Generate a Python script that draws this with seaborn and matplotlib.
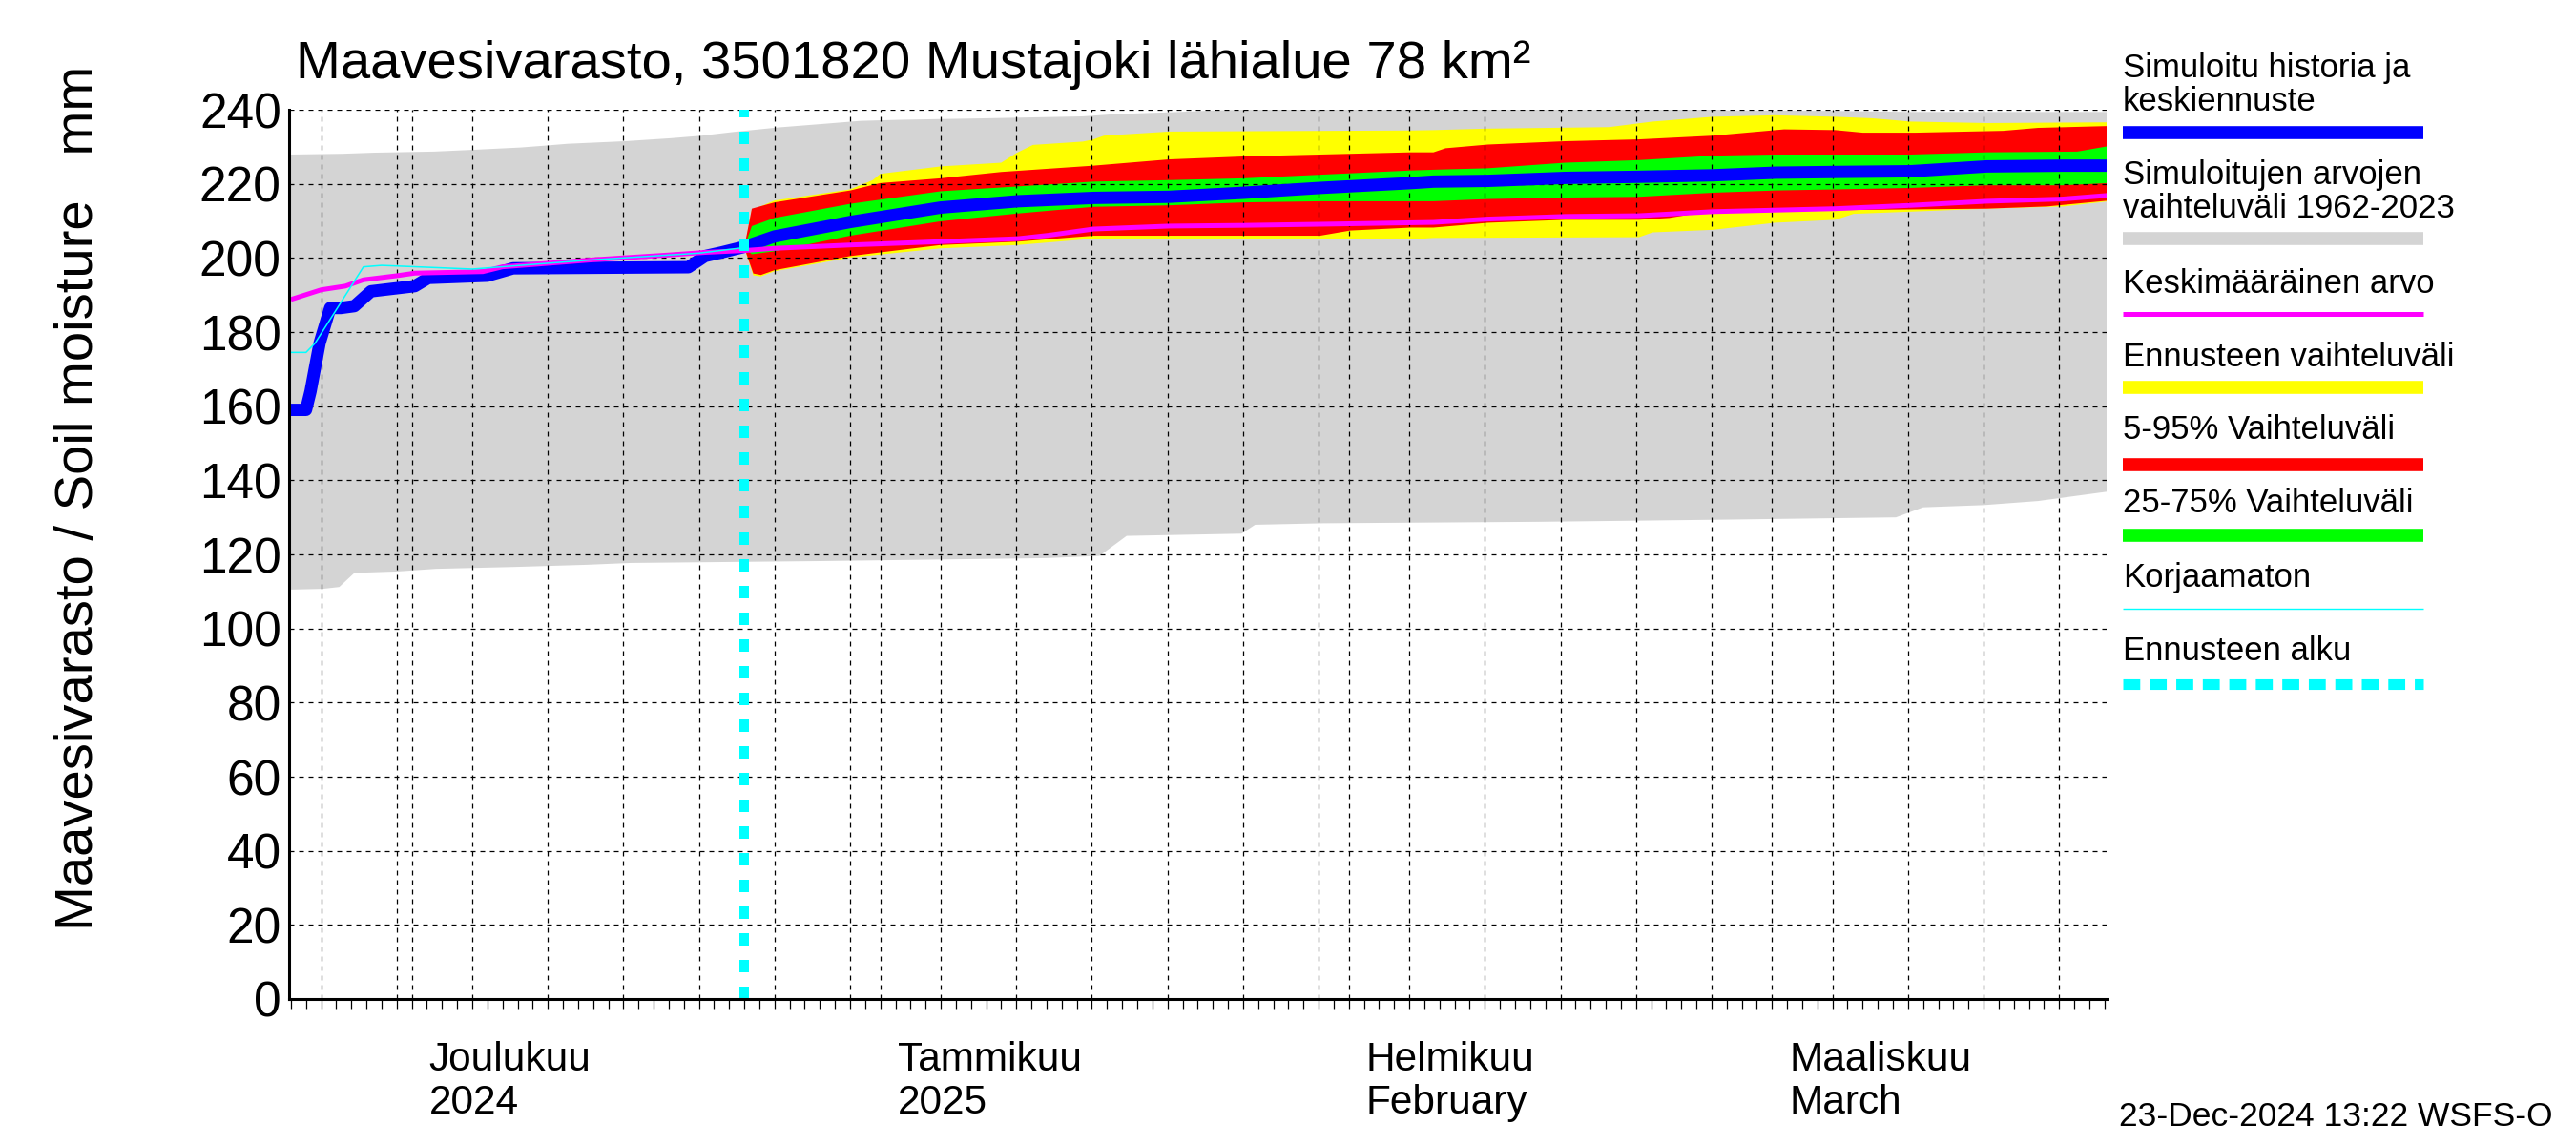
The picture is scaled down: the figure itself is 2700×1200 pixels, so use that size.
import numpy as np
import pandas as pd
import matplotlib
matplotlib.use("Agg")
import matplotlib.pyplot as plt
import matplotlib.dates as mdates
from matplotlib.lines import Line2D
from matplotlib.transforms import ScaledTranslation, blended_transform_factory
import seaborn as sns

# ---------------- data (days after 2024-11-23 00:00, values in mm) ----------------
START = "2024-11-23"
FORECAST_START = "2024-12-23"

hist_days = [0, 1.0, 1.3, 1.9, 2.6, 3.3, 4.2, 5.3, 8.2, 9.1, 13.0, 14.7, 26.3, 27.4, 28.5, 30.0,
             32.0, 37.0, 43.0, 48.1, 53.1, 58.1, 63.1, 68.1, 74.1, 75.6, 79.2, 84.3, 89.2, 94.1,
             98.2, 102.2, 107.2, 112.2, 117.2, 120.3]
hist_vals = [159, 159, 164, 177, 186.5, 186.5, 187, 191, 192.4, 194.6, 195.2, 197.2, 197.5, 200.5,
             201.5, 203, 205.8, 209.7, 213.6, 215.3, 216.2, 216.5, 217.6, 218.9, 220.2, 220.6,
             220.8, 221.6, 221.9, 222.3, 223, 223.2, 223.4, 224.7, 224.9, 224.9]

mean_days = [0, 2.0, 3.6, 4.8, 7.0, 8.2, 12.7, 14.0, 20.0, 25.0, 27.4, 30.0, 32.0, 37.0, 43.0,
             48.1, 50.1, 53.1, 58.1, 63.1, 68.1, 74.1, 75.6, 79.2, 84.3, 89.2, 94.1, 98.2, 102.2,
             107.2, 112.2, 117.2, 120.3]
mean_vals = [188.8, 191.4, 192.4, 194.1, 195.2, 195.9, 196.3, 197.6, 199.5, 200.8, 201.5, 202.0,
             202.6, 203.5, 204.4, 205.2, 206.1, 207.8, 208.6, 208.8, 209.1, 209.5, 209.6, 210.5,
             211.2, 211.4, 212.5, 212.9, 213.3, 214.2, 215.3, 215.9, 216.9]

uncorr_days = [0, 1.0, 1.6, 4.8, 6.0, 9.0, 12.0, 20.0, 27.0, 30.0]
uncorr_vals = [174.5, 174.5, 177.0, 197.6, 198.0, 197.5, 197.0, 199.5, 201.3, 202.8]

range_low_days = [0, 2.1, 3.2, 4.2, 7.1, 9.6, 14.7, 19.6, 22.5, 35.0, 50.0, 53.5, 55.3, 62.9,
                  63.8, 68.3, 82.7, 95.3, 106.2, 108.0, 112.0, 115.6, 120.3]
range_low_vals = [110.5, 110.7, 111.2, 115.0, 115.4, 116.1, 116.6, 117.2, 117.7, 118.2, 119.0,
                  119.6, 125.0, 125.6, 128.0, 128.4, 128.8, 129.4, 130.0, 132.7, 133.3, 134.4, 137.0]
range_high_days = [0, 3.4, 5.5, 9.5, 12.2, 15.2, 16.8, 18.3, 22.1, 25.1, 27.2, 29.3, 32.2, 35.6,
                   37.7, 40.4, 46.1, 52.4, 54.5, 58.8, 61.0, 64.0, 68.0, 75.6, 84.0, 90.0, 94.0,
                   95.0, 102.0, 107.0, 120.3]
range_high_vals = [227.9, 228.1, 228.4, 228.7, 229.2, 229.8, 230.3, 230.8, 231.5, 232.3, 233.0,
                   234.0, 235.2, 236.3, 237.0, 237.3, 237.7, 238.2, 238.8, 239.4, 239.8, 240.1,
                   240.3, 240.1, 240.3, 240.6, 240.5, 239.8, 239.7, 239.4, 239.4]

fc_max_days = [30.0, 30.5, 32.0, 37.0, 38.5, 39.0, 43.0, 47.0, 47.5, 48.0, 49.1, 52.4, 53.1, 53.8,
               58.1, 74.1, 75.6, 79.2, 87.2, 90.1, 94.1, 98.2, 102.2, 104.6, 107.2, 112.2, 120.3]
fc_max_vals = [202.8, 212.9, 215.5, 218.5, 221.0, 222.7, 224.7, 225.7, 227.0, 228.3, 230.5, 231.4,
               232.0, 233.0, 234.1, 234.4, 234.5, 234.9, 235.3, 236.8, 238.1, 238.5, 238.1, 237.7,
               236.8, 236.4, 236.6]
fc_min_days = [30.0, 30.6, 31.1, 32.0, 37.0, 43.0, 48.1, 53.1, 58.1, 74.1, 75.6, 89.2, 90.1,
               94.1, 98.2, 102.2, 103.4, 107.2, 112.2, 117.3, 120.3]
fc_min_vals = [202.8, 195.3, 195.0, 196.4, 200.1, 202.6, 203.5, 205.2, 205.0, 205.0, 205.4,
               205.6, 206.9, 207.6, 209.5, 210.3, 211.9, 212.5, 213.3, 213.9, 215.3]

p95_days = [30.0, 30.5, 32.0, 37.0, 39.0, 43.0, 47.0, 53.1, 58.1, 63.1, 74.1, 75.6, 76.4, 79.2,
            84.3, 89.2, 94.1, 98.8, 102.2, 104.0, 107.5, 113.3, 115.6, 120.3]
p95_vals = [202.8, 213.3, 215.0, 218.2, 220.2, 221.5, 223.2, 224.9, 226.6, 227.4, 228.5, 228.5,
            229.6, 230.6, 231.5, 232.0, 233.0, 234.7, 234.5, 233.8, 233.8, 234.3, 235.1, 235.6]
p05_days = [30.0, 30.6, 31.1, 32.0, 37.0, 43.0, 48.1, 53.1, 68.1, 70.1, 74.1, 75.6, 77.3, 79.2,
            84.3, 89.2, 91.2, 93.0, 94.1, 98.2, 102.2, 107.2, 112.2, 116.2, 120.3]
p05_vals = [202.8, 195.8, 195.4, 196.7, 200.5, 203.5, 204.4, 206.0, 206.0, 207.4, 208.2, 208.2,
            208.8, 209.5, 210.3, 210.3, 210.8, 212.0, 212.5, 212.6, 212.9, 213.1, 213.3, 213.9,
            215.5]

p75_days = [30.0, 30.5, 32.0, 37.0, 43.0, 48.1, 53.1, 58.1, 63.1, 74.1, 75.6, 79.2, 84.3, 89.2,
            94.1, 98.2, 107.2, 112.2, 118.2, 120.3]
p75_vals = [202.8, 208.6, 210.8, 214.6, 218.0, 219.3, 220.6, 221.0, 221.5, 223.6, 223.8, 224.2,
            225.7, 226.4, 227.6, 227.9, 227.9, 228.5, 228.7, 230.2]
p25_days = [30.0, 30.5, 32.0, 37.0, 43.0, 48.1, 53.1, 58.1, 63.1, 68.1, 75.6, 79.2, 84.3, 89.2,
            94.1, 98.2, 102.2, 107.2, 112.2, 117.2, 120.3]
p25_vals = [202.8, 201.0, 201.8, 206.0, 209.9, 212.0, 213.8, 214.2, 215.0, 215.3, 215.3, 215.9,
            216.3, 216.5, 217.6, 218.2, 218.5, 218.9, 219.6, 219.6, 220.2]

month_starts = ["2024-12-01", "2025-01-01", "2025-02-01", "2025-03-01"]
month_line1 = ["Joulukuu", "Tammikuu", "Helmikuu", "Maaliskuu"]
month_line2 = ["2024", "2025", "February", "March"]

TITLE = "Maavesivarasto, 3501820 Mustajoki lähialue 78 km²"
YLABEL = "Maavesivarasto / Soil moisture   mm"
STAMP = "23-Dec-2024 13:22 WSFS-O"
legend_labels = ["Simuloitu historia ja\nkeskiennuste",
                 "Simuloitujen arvojen\nvaihteluväli 1962-2023",
                 "Keskimääräinen arvo", "Ennusteen vaihteluväli", "5-95% Vaihteluväli",
                 "25-75% Vaihteluväli", "Korjaamaton", "Ennusteen alku"]

# ---------------- styling ----------------
C_GRAY = "#d4d4d4"
C_YEL = "#ffff00"
C_RED = "#ff0000"
C_GRN = "#00ff00"
C_BLU = "#0000ff"
C_MAG = "#ff00ff"
C_CYA = "#00ffff"

sns.set_style("white")
plt.rcParams["font.family"] = ["Liberation Sans", "DejaVu Sans"]
plt.rcParams["text.color"] = "black"
plt.rcParams["axes.labelcolor"] = "black"
plt.rcParams["xtick.color"] = "black"
plt.rcParams["ytick.color"] = "black"
plt.rcParams["axes.edgecolor"] = "black"

W, H = 2700, 1200
fig = plt.figure(figsize=(27, 12), dpi=100)
ax = fig.add_axes([303 / W, 1 - 1047 / H, (2208 - 303) / W, (1047 - 115) / H])

start = pd.Timestamp(START)


def to_dates(days):
    return start + pd.to_timedelta(np.asarray(days, dtype=float), unit="D")


def dn(days):
    return mdates.date2num(to_dates(days))


# lines via seaborn
def sline(days, vals, **kw):
    df = pd.DataFrame({"date": to_dates(days), "value": vals})
    sns.lineplot(data=df, x="date", y="value", ax=ax, estimator=None, sort=False, **kw)


sline(hist_days, hist_vals, color=C_BLU, lw=9.3, zorder=4, solid_capstyle="butt")
sline(mean_days, mean_vals, color=C_MAG, lw=3.6, zorder=5, solid_capstyle="butt")
sline(uncorr_days, uncorr_vals, color=C_CYA, lw=1.1, zorder=6)


def band(xu, yu, xl, yl, color, z):
    x = np.concatenate([dn(xu), dn(xl)[::-1]])
    y = np.concatenate([np.asarray(yu, float), np.asarray(yl, float)[::-1]])
    ax.fill(x, y, color=color, lw=0, zorder=z)


band(range_high_days, range_high_vals, range_low_days, range_low_vals, C_GRAY, 1.0)
band(fc_max_days, fc_max_vals, fc_min_days, fc_min_vals, C_YEL, 1.1)
band(p95_days, p95_vals, p05_days, p05_vals, C_RED, 1.2)
band(p75_days, p75_vals, p25_days, p25_vals, C_GRN, 1.3)

ax.axvline(mdates.date2num(pd.Timestamp(FORECAST_START)), color=C_CYA, lw=7.2,
           ls=(0, (1.3, 1.5)), zorder=7)

# axes limits
ax.set_xlim(dn([-0.12])[0], dn([120.14])[0])
ax.set_ylim(0, 240)
ax.set_xlabel("")
ax.set_ylabel("")

# ticks
all_days = pd.date_range("2024-11-23", "2025-03-23", freq="D")
month_dates = pd.to_datetime(month_starts)
five_dates = [d for d in all_days if d.day in (5, 10, 15, 20, 25, 30)]

ax.set_xticks(mdates.date2num(month_dates))
ax.set_xticks(mdates.date2num(five_dates), minor=True)
ax.tick_params(axis="x", which="major", direction="out", length=50, width=1.0,
               labelbottom=False, color="black")
ax.tick_params(axis="x", which="minor", direction="out", length=25, width=0.9,
               labelbottom=False, color="black")
ax.set_yticks(np.arange(0, 241, 20))
ax.tick_params(axis="y", which="major", direction="in", length=34, width=1.6,
               labelsize=37, pad=6, color="black", labelcolor="black")

sec = ax.secondary_xaxis("bottom")
sec.set_xticks(mdates.date2num(all_days))
sec.tick_params(axis="x", direction="out", length=7, width=0.9, labelbottom=False, color="black")
sec.spines["bottom"].set_visible(False)

for t in ax.xaxis.get_major_ticks():
    t.tick1line.set_markeredgewidth(1.0)
ax.xaxis.get_major_ticks()[1].tick1line.set_markeredgewidth(2.6)

# grid
ax.grid(True, which="both", axis="x", color="black", lw=0.9, ls=(0, (4, 4)), zorder=8)
ax.grid(True, which="major", axis="y", color="black", lw=0.9, ls=(0, (4, 4)), zorder=8)
ax.set_axisbelow(False)
for gl in ax.get_xgridlines() + ax.get_ygridlines():
    gl.set_zorder(8)

for s in ["top", "right"]:
    ax.spines[s].set_visible(False)
for s in ["left", "bottom"]:
    ax.spines[s].set_linewidth(2.2)
    ax.spines[s].set_color("black")
    ax.spines[s].set_zorder(9)

# month labels
trans = blended_transform_factory(ax.transData, ax.transAxes)
for d, l1, l2 in zip(month_dates, month_line1, month_line2):
    x = mdates.date2num(d)
    ax.text(x, 0, l1, transform=trans + ScaledTranslation(13 / 72, -54 / 72, fig.dpi_scale_trans),
            ha="left", va="baseline", fontsize=30.5, color="black")
    ax.text(x, 0, l2, transform=trans + ScaledTranslation(13 / 72, -86.5 / 72, fig.dpi_scale_trans),
            ha="left", va="baseline", fontsize=30.5, color="black")

# title, y label, stamp
fig.text(310 / W, 1 - 82 / H, TITLE, ha="left", va="baseline", fontsize=40.5, color="black")
fig.text(83 / W, 1 - 522 / H, YLABEL, rotation=90, ha="center", va="center", fontsize=40.5,
         color="black")
fig.text(2221 / W, 1 - 1171 / H, STAMP, ha="left", va="center", fontsize=25.5, color="black")

# legend (outside, right)
lx0, lx1 = 2225 / W, 2540 / W
leg_text_y = [[72, 106], [183, 218], [297], [374], [451], [528], [605], [682]]
leg_line_y = [139, 250, 329, 406, 487, 561, 638, 717]
leg_styles = [dict(color=C_BLU, lw=9.8), dict(color=C_GRAY, lw=9.8), dict(color=C_MAG, lw=3.6),
              dict(color=C_YEL, lw=9.8), dict(color=C_RED, lw=9.8), dict(color=C_GRN, lw=9.8),
              dict(color=C_CYA, lw=1.0), dict(color=C_CYA, lw=8.0, ls=(0, (1.6, 0.9)))]
for lab, tys, ly, st in zip(legend_labels, leg_text_y, leg_line_y, leg_styles):
    for line_txt, ty in zip(lab.split("\n"), tys):
        fig.text(lx0, 1 - ty / H, line_txt, ha="left", va="center", fontsize=25, color="black")
    fig.add_artist(Line2D([lx0, lx1], [1 - ly / H, 1 - ly / H], transform=fig.transFigure,
                          solid_capstyle="butt", dash_capstyle="butt", **st))

fig.savefig("out.png", dpi=100)
